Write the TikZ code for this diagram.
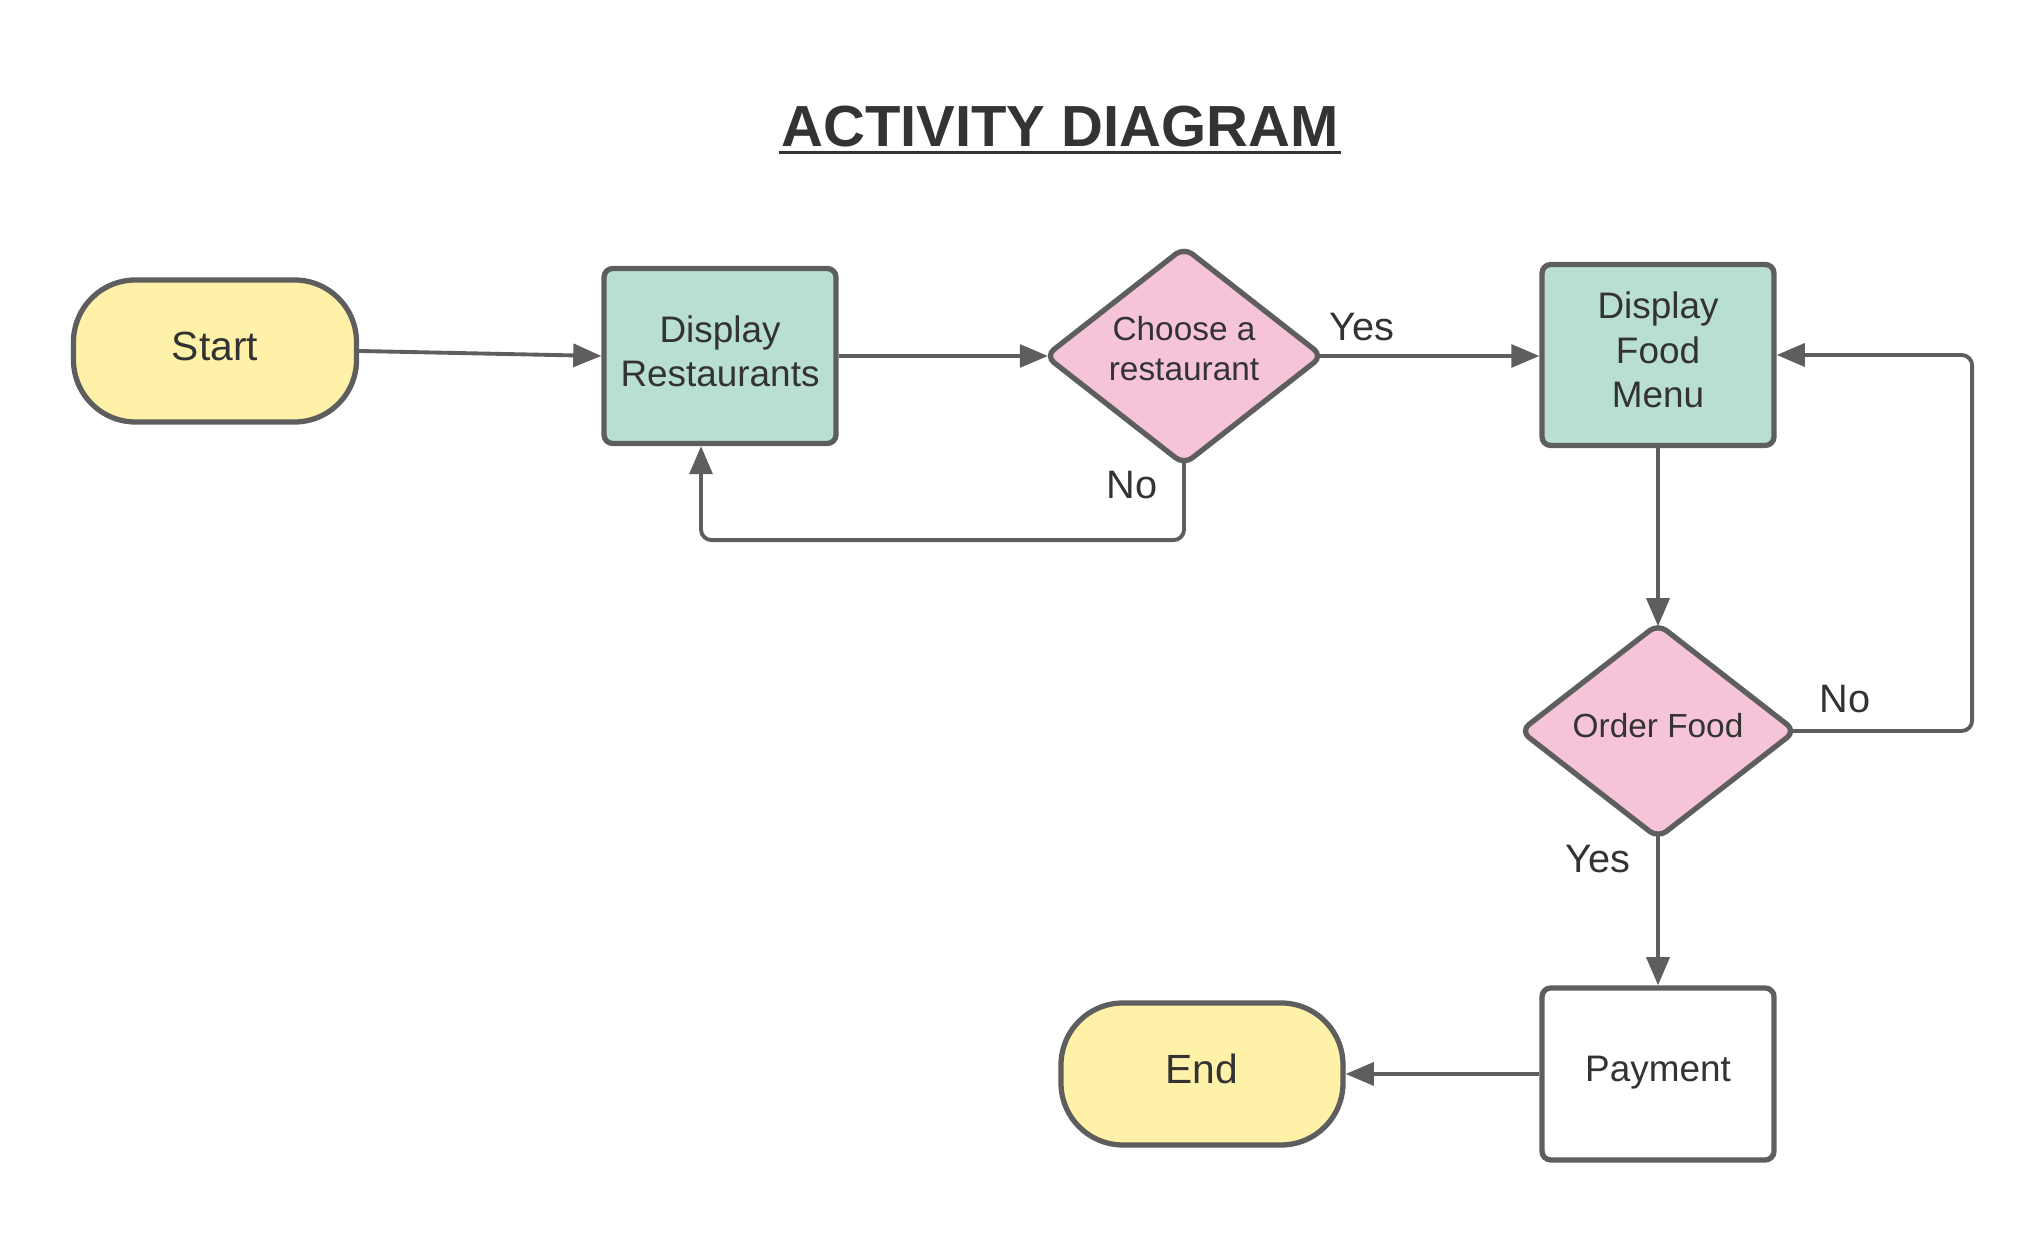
\documentclass[tikz,border=0pt]{standalone}
\usepackage{fontspec}
\setmainfont{Liberation Sans}
\usetikzlibrary{arrows.meta,shapes.geometric}
\definecolor{linegray}{HTML}{5E5E5E}
\definecolor{textdark}{HTML}{333333}
\definecolor{startyellow}{HTML}{FFF1A8}
\definecolor{actgreen}{HTML}{B8DFCF}
\definecolor{decpink}{HTML}{F5C4D9}

\begin{document}
\begin{tikzpicture}[
  terminal/.style={draw=linegray, line width=1.5pt, fill=startyellow, rounded corners=0.62cm,
    minimum width=2.83cm, minimum height=1.42cm, text depth=0.1cm, text=textdark,
    font=\fontsize{11.6}{14}\selectfont},
  activity/.style={draw=linegray, line width=1.5pt, fill=actgreen, rounded corners=2.5pt,
    minimum width=2.32cm, minimum height=1.75cm, align=center, text depth=0.1cm, text=textdark,
    font=\fontsize{10.5}{12.7}\selectfont},
  decision/.style={diamond, draw=linegray, line width=1.5pt, fill=decpink, rounded corners=3pt,
    inner sep=0pt, minimum width=2.79cm, minimum height=2.19cm, align=center, text=textdark,
    font=\fontsize{9.5}{11.5}\selectfont},
  flow/.style={draw=linegray, line width=1.1pt, -{Triangle[length=8pt,width=6.5pt]}},
  lbl/.style={text=textdark, font=\fontsize{11.3}{13}\selectfont}
]
\useasboundingbox (0,0) rectangle (20.44,12.39);

\node[anchor=base, inner sep=0pt, text=textdark, font=\bfseries\fontsize{16.5}{20}\selectfont] (title) at (10.60,10.92) {ACTIVITY DIAGRAM};
\draw[textdark, line width=1.1pt] ([xshift=-0.02cm,yshift=-0.055cm]title.base west) -- ([xshift=0.02cm,yshift=-0.055cm]title.base east);

\node[terminal] (start) at (2.15,8.88) {Start};
\node[activity] (dr) at (7.20,8.83) {Display\\Restaurants};
\node[decision, text height=0.57cm, text depth=0.08cm] (choose) at (11.84,8.83) {Choose a\\restaurant};
\node[activity, minimum height=1.81cm] (dfm) at (16.58,8.84) {Display\\Food\\Menu};
\node[decision, minimum width=2.77cm, minimum height=2.16cm, text height=0.19cm, text depth=0.05cm] (order) at (16.58,5.08) {Order Food};
\node[activity, fill=white, minimum height=1.72cm] (pay) at (16.58,1.65) {Payment};
\node[terminal, minimum width=2.82cm] (end) at (12.02,1.65) {End};

\draw[flow] (start.east) -- (dr.west);
\draw[flow] (dr.east) -- ([xshift=0.06cm]choose.west);
\draw[flow] ([xshift=-0.06cm]choose.east) -- (dfm.west |- choose.east);
\draw[flow, rounded corners=3pt] ([yshift=0.06cm]choose.south) -- ++(0,-0.78) -| ([xshift=-0.19cm]dr.south);
\draw[flow] (dfm.south) -- ([yshift=-0.06cm]order.north);
\draw[flow, rounded corners=3pt] ([xshift=-0.06cm]order.east) -- ++(1.79,0) |- (dfm.east);
\draw[flow] ([yshift=0.06cm]order.south) -- (pay.north);
\draw[flow] (pay.west) -- (end.east);

\node[lbl] (yes1) at (13.62,9.12) {Yes};
\node[lbl] (no1) at (11.32,7.54) {No};
\node[lbl] (no2) at (18.45,5.40) {No};
\node[lbl] (yes2) at (15.98,3.80) {Yes};
\end{tikzpicture}
\end{document}
